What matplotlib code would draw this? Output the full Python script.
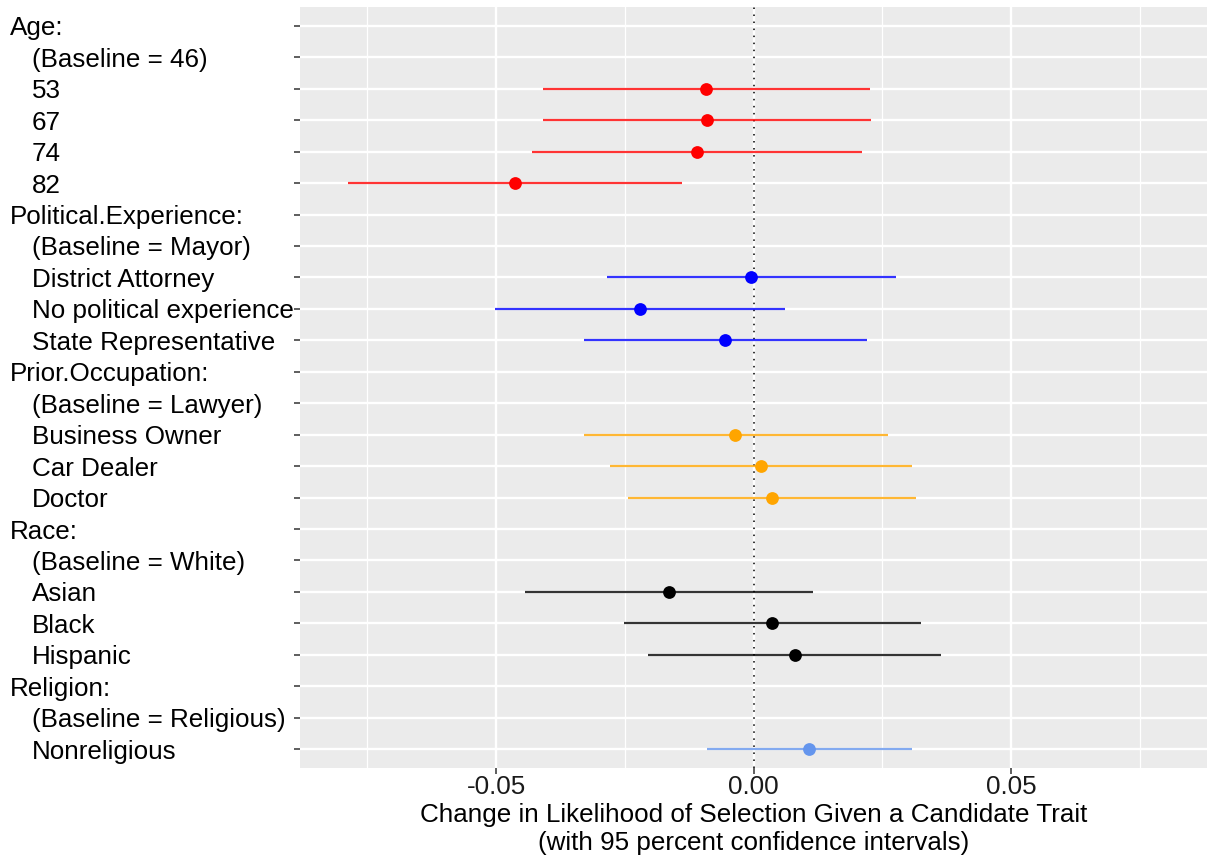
import matplotlib
matplotlib.use("Agg")
import matplotlib.pyplot as plt
from matplotlib.transforms import blended_transform_factory
from matplotlib.ticker import FixedLocator

plt.rcParams['font.family'] = ['Liberation Sans', 'DejaVu Sans']

# Row labels, top to bottom; headers are flush left, levels are indented
row_labels = [
    "Age:", "(Baseline = 46)", "53", "67", "74", "82",
    "Political.Experience:", "(Baseline = Mayor)", "District Attorney",
    "No political experience", "State Representative",
    "Prior.Occupation:", "(Baseline = Lawyer)", "Business Owner", "Car Dealer", "Doctor",
    "Race:", "(Baseline = White)", "Asian", "Black", "Hispanic",
    "Religion:", "(Baseline = Religious)", "Nonreligious",
]
is_header = [lab.endswith(":") for lab in row_labels]

# Estimates and 95% confidence bounds per attribute level
age_levels = ["53", "67", "74", "82"]
age_est = [-0.0093, -0.0091, -0.0110, -0.0463]
age_lo = [-0.0409, -0.0408, -0.0430, -0.0788]
age_hi = [0.0226, 0.0228, 0.0211, -0.0139]

pol_levels = ["District Attorney", "No political experience", "State Representative"]
pol_est = [-0.0004, -0.0221, -0.0055]
pol_lo = [-0.0284, -0.0503, -0.0330]
pol_hi = [0.0277, 0.0062, 0.0221]

occ_levels = ["Business Owner", "Car Dealer", "Doctor"]
occ_est = [-0.0035, 0.0014, 0.0036]
occ_lo = [-0.0329, -0.0279, -0.0244]
occ_hi = [0.0262, 0.0307, 0.0316]

race_levels = ["Asian", "Black", "Hispanic"]
race_est = [-0.0164, 0.0036, 0.0081]
race_lo = [-0.0444, -0.0251, -0.0205]
race_hi = [0.0116, 0.0325, 0.0364]

rel_levels = ["Nonreligious"]
rel_est = [0.0108]
rel_lo = [-0.0091]
rel_hi = [0.0308]

groups = [
    (age_levels, age_est, age_lo, age_hi, "#FF0000"),
    (pol_levels, pol_est, pol_lo, pol_hi, "#0000FF"),
    (occ_levels, occ_est, occ_lo, occ_hi, "#FFA500"),
    (race_levels, race_est, race_lo, race_hi, "#000000"),
    (rel_levels, rel_est, rel_lo, rel_hi, "#6495ED"),
]

W, H = 1209, 859
FS = 18.7
fig = plt.figure(figsize=(W / 100, H / 100), dpi=100)
ax = fig.add_axes([300 / W, 1 - 768 / H, 907 / W, 761 / H])
ax.set_facecolor("#EBEBEB")
for s in ax.spines.values():
    s.set_visible(False)

n = len(row_labels)
ypos = {lab: i + 1 for i, lab in enumerate(row_labels)}

# grid
ax.set_xlim(-0.0881, 0.0881)
ax.set_ylim(n + 0.6, 0.4)
ax.xaxis.set_major_locator(FixedLocator([-0.05, 0.0, 0.05]))
ax.xaxis.set_minor_locator(FixedLocator([-0.075, -0.025, 0.025, 0.075]))
ax.set_yticks(range(1, n + 1))
ax.grid(which="major", axis="both", color="white", lw=1.7)
ax.grid(which="minor", axis="x", color="white", lw=0.9)
ax.set_axisbelow(True)

ax.axvline(0, color="black", lw=1.1, ls=(0, (1, 3.6)), zorder=2)

for levels, est, lo, hi, col in groups:
    ys = [ypos[l] for l in levels]
    ax.hlines(ys, lo, hi, color=col, lw=1.6, alpha=0.8, zorder=3)
    ax.plot(est, ys, "o", color=col, ms=9.2, mec="none", zorder=4)

ax.set_xticklabels(["-0.05", "0.00", "0.05"])
ax.tick_params(axis="x", which="major", length=4, width=1.1, color="#333333",
               labelsize=FS, labelcolor="#1A1A1A", pad=1)
ax.tick_params(axis="x", which="minor", length=0)
ax.tick_params(axis="y", length=4, width=1.1, color="#333333", labelleft=False)

# left-aligned row labels
tr = blended_transform_factory(fig.transFigure, ax.transData)
for lab, hdr in zip(row_labels, is_header):
    xpx = 10 if hdr else 32
    ax.text(xpx / W, ypos[lab], lab, transform=tr, ha="left", va="center_baseline",
            fontsize=FS, color="black", clip_on=False)

ax.set_xlabel("Change in Likelihood of Selection Given a Candidate Trait\n"
              "(with 95 percent confidence intervals)",
              fontsize=FS, color="black", labelpad=3, linespacing=1.22)

fig.savefig("out.png", dpi=100, facecolor="white")
